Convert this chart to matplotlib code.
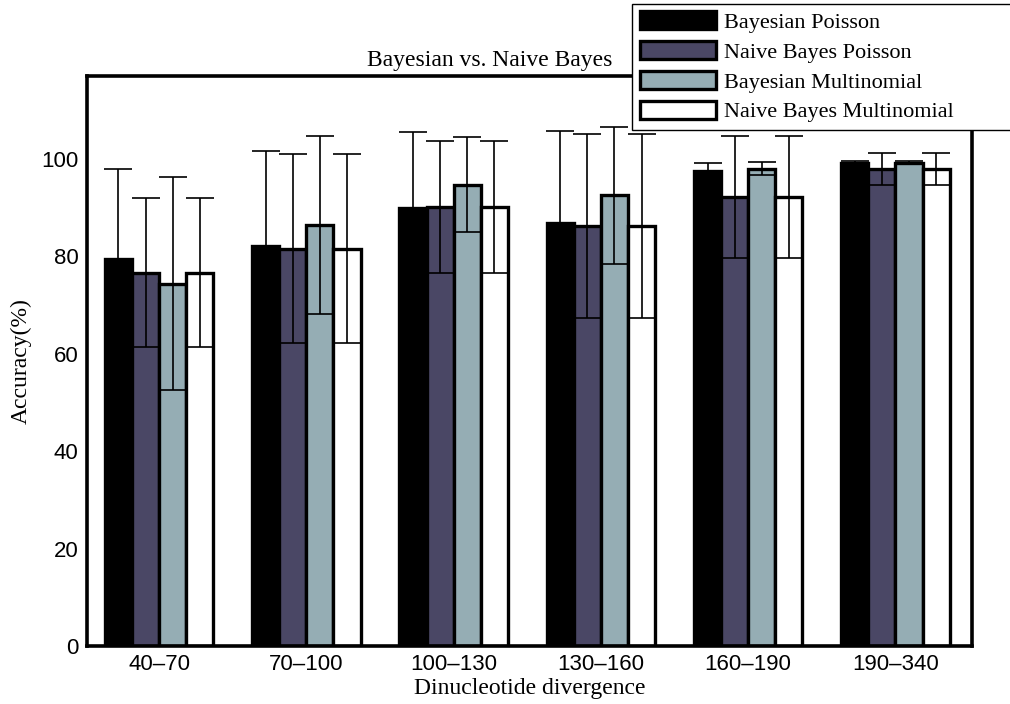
import numpy as np
import matplotlib
matplotlib.use('Agg')
import matplotlib.pyplot as plt

# --- Datos ---
categories = ['40–70', '70–100', '100–130', '130–160', '160–190', '190–340']
series_names = ['Bayesian Poisson', 'Naive Bayes Poisson',
                'Bayesian Multinomial', 'Naive Bayes Multinomial']

bayes_poisson = [79.5, 82.1, 90.0, 86.9, 97.6, 99.2]
bayes_poisson_err = [18.5, 19.5, 15.6, 18.9, 1.6, 0.3]
nb_poisson = [76.6, 81.5, 90.1, 86.2, 92.2, 98.0]
nb_poisson_err = [15.3, 19.4, 13.6, 18.9, 12.5, 3.3]
bayes_multi = [74.4, 86.4, 94.7, 92.5, 98.0, 99.2]
bayes_multi_err = [21.8, 18.2, 9.7, 14.0, 1.4, 0.3]
nb_multi = [76.6, 81.5, 90.1, 86.2, 92.2, 98.0]
nb_multi_err = [15.3, 19.4, 13.6, 18.9, 12.5, 3.3]

values = [bayes_poisson, nb_poisson, bayes_multi, nb_multi]
errors = [bayes_poisson_err, nb_poisson_err, bayes_multi_err, nb_multi_err]
colors = ['#000000', '#4a4765', '#95adb4', '#ffffff']

serif = 'Liberation Serif'
sans = 'Liberation Sans'

# --- Figura ---
fig = plt.figure(figsize=(10.10, 7.04), dpi=100)
ax = fig.add_axes([0.0861, 0.0824, 0.8763, 0.8096])

x = np.arange(1, len(categories) + 1)
width = 0.184
handles = []
for i, (vals, errs, col, name) in enumerate(zip(values, errors, colors, series_names)):
    xpos = x + (i - 1.5) * width
    b = ax.bar(xpos, vals, width=width, color=col, edgecolor='black',
               linewidth=2.4, label=name, zorder=2)
    handles.append(b)
    ax.errorbar(xpos, vals, yerr=errs, fmt='none', ecolor='black',
                elinewidth=1.2, capsize=10, capthick=1.2, zorder=3)

ax.set_xlim(0.51, 6.52)
ax.set_ylim(0, 117)
ax.set_xticks(x)
ax.set_xticklabels(categories, fontsize=16, family=sans)
ax.set_yticks([0, 20, 40, 60, 80, 100])
ax.set_yticklabels(['0', '20', '40', '60', '80', '100'], fontsize=16, family=sans)
ax.tick_params(length=0, pad=6)
for sp in ax.spines.values():
    sp.set_linewidth(2.6)

ax.set_xlabel('Dinucleotide divergence', fontsize=17, family=serif, labelpad=2)
ax.set_ylabel('Accuracy(%)', fontsize=17, family=serif)
ax.yaxis.set_label_coords(-0.062, 0.5)
ax.set_title('Bayesian vs. Naive Bayes', fontsize=17, family=serif, x=0.455, pad=7)

leg = fig.legend(handles=handles, loc='upper left',
                 bbox_to_anchor=(0.626, 0.0, 0.5, 0.995), mode='expand',
                 prop={'family': serif, 'size': 16}, frameon=True, fancybox=False,
                 framealpha=1, handlelength=3.42, handleheight=0.9, handletextpad=0.36,
                 labelspacing=0.36, borderpad=0.33, borderaxespad=0)
leg.get_frame().set_edgecolor('black')
leg.get_frame().set_linewidth(1.0)
for p in leg.get_patches():
    p.set_linewidth(2.4)

fig.savefig('out.png', dpi=100)
